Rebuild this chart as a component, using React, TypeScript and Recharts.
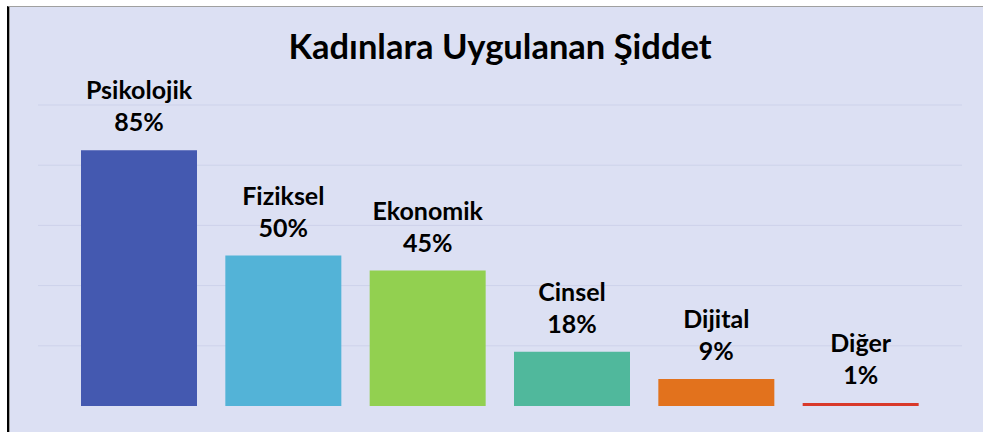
import React from 'react';
import { BarChart, Bar, XAxis, YAxis, CartesianGrid, LabelList, Cell } from 'recharts';

const categories = ['Psikolojik', 'Fiziksel', 'Ekonomik', 'Cinsel', 'Dijital', 'Diğer'];
const values = [85, 50, 45, 18, 9, 1];
const barColors = ['#4459b0', '#53b3d7', '#92d050', '#50b89c', '#e2721d', '#d9392a'];
const yTicks = [20, 40, 60, 80, 100];

const data = categories.map((name, i) => ({ name, value: values[i] }));

const FONT = 'Lato, "Open Sans", sans-serif';

const BarLabel = (props: any) => {
  const { x, y, width, index } = props;
  const cx = x + width / 2;
  return (
    <g>
      <text x={cx} y={y - 51} textAnchor="middle" fontFamily={FONT} fontWeight={700} fontSize={25} fill="#000">
        {categories[index]}
      </text>
      <text x={cx} y={y - 19} textAnchor="middle" fontFamily={FONT} fontWeight={700} fontSize={25} fill="#000">
        {values[index]}%
      </text>
    </g>
  );
};

const App: React.FC = () => {
  return (
    <div style={{ position: 'absolute', left: 0, top: 0, width: 983, height: 432, background: '#ffffff', overflow: 'hidden' }}>
      <div
        style={{
          position: 'absolute',
          left: 7,
          top: 6,
          width: 983,
          height: 432,
          background: '#dce0f3',
          borderTop: '1px solid #a0a0a0',
          borderLeft: '2px solid #000000',
          boxShadow: 'inset 1px 0 0 #a0a0a0',
        }}
      />
      <div style={{ position: 'absolute', left: 0, top: 0 }}>
        <BarChart width={983} height={432} data={data} margin={{ top: 105, right: 21, bottom: 26, left: 38 }}>
          <CartesianGrid vertical={false} horizontalValues={yTicks} stroke="#cdd2ea" strokeWidth={1} />
          <XAxis dataKey="name" hide padding={{ left: 29, right: 29 }} />
          <YAxis hide domain={[0, 100]} ticks={yTicks} />
          <Bar dataKey="value" barSize={116} isAnimationActive={false}>
            {data.map((d, i) => (
              <Cell key={d.name} fill={barColors[i]} />
            ))}
            <LabelList dataKey="value" content={<BarLabel />} />
          </Bar>
        </BarChart>
      </div>
      <svg width={983} height={80} style={{ position: 'absolute', left: 0, top: 0 }}>
        <text x={500} y={59} textAnchor="middle" fontFamily={FONT} fontWeight={700} fontSize={34.5} fill="#000">
          Kadınlara Uygulanan Şiddet
        </text>
      </svg>
    </div>
  );
};

export default App;
